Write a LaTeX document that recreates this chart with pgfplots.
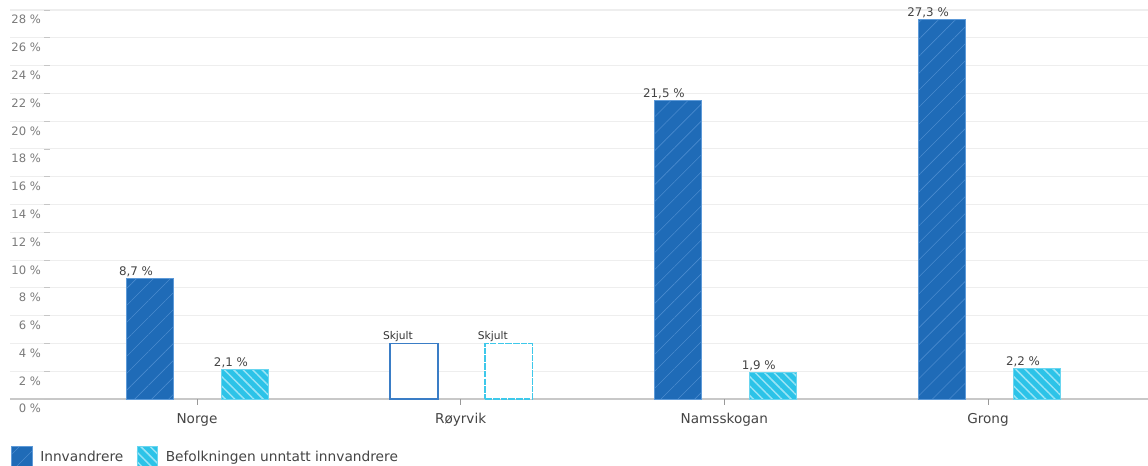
\documentclass[border=0pt]{standalone}
\usepackage{fontspec}
\setmainfont{DejaVu Sans}
\usepackage{pgfplots}
\pgfplotsset{compat=1.18}
\usetikzlibrary{patterns.meta}
\definecolor{dblue}{HTML}{1F6BB7}
\definecolor{dblueedge}{HTML}{5E9AD8}
\definecolor{dbluestripe}{HTML}{4A8BCF}
\definecolor{cyanb}{HTML}{2CC3E8}
\definecolor{cyanedge}{HTML}{6AD6F0}
\definecolor{cyanstripe}{HTML}{9BE4F5}
\definecolor{skblue}{HTML}{3A7DC6}
\definecolor{skcyan}{HTML}{3EC8EA}
\definecolor{ticktext}{HTML}{7A7A7A}
\definecolor{labtext}{HTML}{444444}
\definecolor{gridc}{HTML}{EEEEEE}
\definecolor{axisc}{HTML}{C8C8C8}
\begin{document}
\begin{tikzpicture}
\useasboundingbox (0,0) rectangle (861pt,-349.5pt);
\begin{axis}[
  at={(7.5pt,-299.25pt)}, anchor=south west,
  scale only axis, width=853.5pt, height=291.75pt,
  xmin=-0.709, xmax=3.607, ymin=0, ymax=28,
  clip=false,
  axis lines=left,
  axis line style={-},
  y axis line style={draw=none},
  x axis line style={draw=axisc, line width=0.8pt},
  ytick={0,2,...,28},
  ytick style={draw=none},
  ymajorgrids,
  grid style={draw=gridc, line width=0.8pt},
  /pgf/number format/assume math mode=true,
  yticklabel={\pgfmathprintnumber{\tick}~\%},
  yticklabel style={font=\fontsize{8.7}{10}\selectfont, text=ticktext, anchor=north east, inner sep=0pt, xshift=25.5pt, yshift=-3.8pt},
  xtick={0,1,2,3},
  xticklabels={Norge,Røyrvik,Namsskogan,Grong},
  xtick style={draw=none},
  xticklabel style={font=\fontsize{10.2}{12}\selectfont, text=labtext, anchor=north, inner sep=0pt, yshift=-6.5pt},
  ybar, bar width=0.18, bar shift=0pt,
  legend image code/.code={\draw[#1] (0pt,-7.8pt) rectangle (15.6pt,7.8pt);},
  legend style={at={(axis description cs:0.001,-0.121)}, anchor=north west, draw=none, fill=none, inner sep=0pt, outer sep=0pt, font=\fontsize{10.3}{12}\selectfont, text=labtext, legend columns=2, /tikz/every even column/.append style={column sep=8pt}, /tikz/every odd column/.append style={column sep=3.75pt}},
  legend cell align=left,
]
\addplot[fill=dblue, draw=dblueedge, line width=0.5pt, postaction={pattern={Lines[angle=45,distance=9pt,line width=0.45pt]}, pattern color=dbluestripe}]
  coordinates {(-0.178,8.7) (1.824,21.5) (2.826,27.3)};
\addlegendentry{Innvandrere}
\addplot[fill=cyanb, draw=cyanedge, line width=0.5pt, postaction={pattern={Lines[angle=-45,distance=5pt,line width=1.1pt]}, pattern color=cyanstripe}]
  coordinates {(0.182,2.1) (2.184,1.9) (3.186,2.2)};
\addlegendentry{Befolkningen unntatt innvandrere}
% value labels
\addplot[draw=none, fill=none, forget plot,
  nodes near coords={\pgfmathprintnumber[fixed,fixed zerofill,precision=1,use comma]{\pgfplotspointmeta}~\%},
  every node near coord/.append style={font=\fontsize{8.9}{10}\selectfont, text=labtext, inner sep=1pt, anchor=south, xshift=-10.5pt}]
  coordinates {(-0.178,8.7) (1.824,21.5) (2.826,27.3) (0.182,2.1) (2.184,1.9) (3.186,2.2)};
% hidden values
\addplot[fill=white, draw=skblue, line width=1.3pt, forget plot] coordinates {(0.823,4)};
\addplot[fill=white, draw=skcyan, line width=1.3pt, dash pattern=on 5pt off 0.8pt, forget plot] coordinates {(1.183,4)};
\addplot[draw=none, fill=none, forget plot,
  nodes near coords={Skjult},
  every node near coord/.append style={font=\fontsize{8}{10}\selectfont, text=black!80, inner sep=1pt, anchor=south, xshift=-12pt}]
  coordinates {(0.823,4) (1.183,4)};
% axis tick marks
\pgfplotsinvokeforeach{0,2,...,28}{\draw[gray!45, line width=0.6pt] (axis cs:-0.580,#1) -- (axis cs:-0.5575,#1);}
\pgfplotsinvokeforeach{0,1,2,3}{\draw[gray!80, line width=0.6pt] (axis cs:#1,0) -- ++(0pt,-4.5pt);}
\end{axis}
\end{tikzpicture}
\end{document}
